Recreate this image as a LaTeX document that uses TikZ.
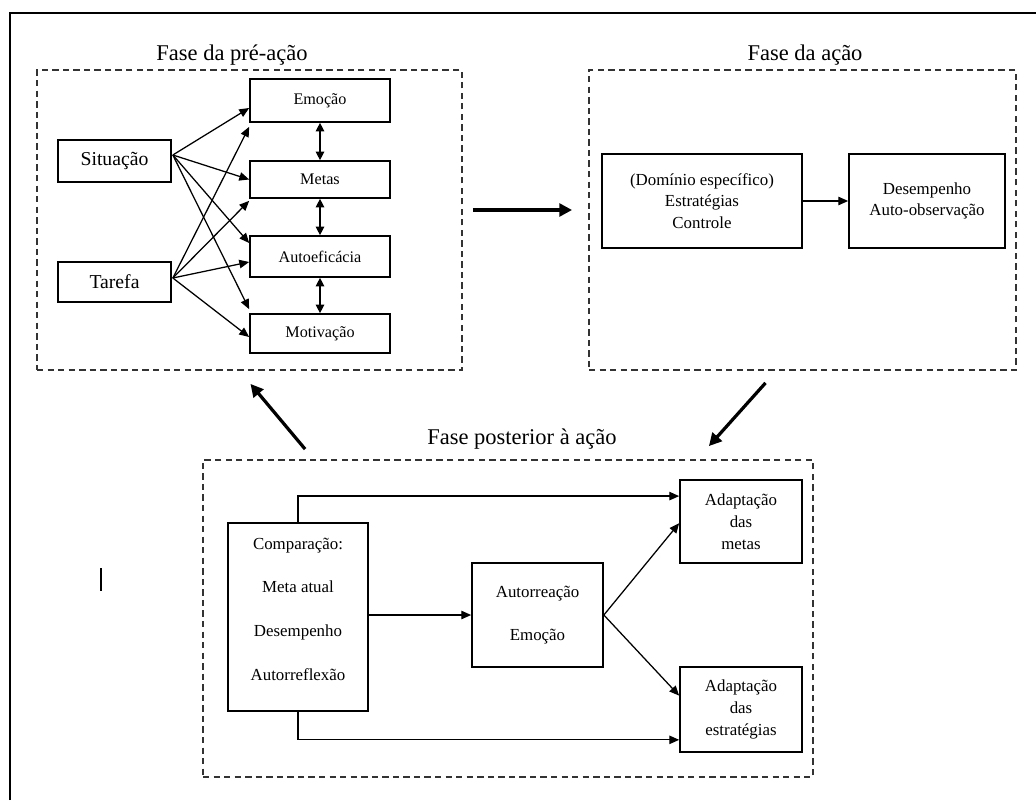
\documentclass[tikz,border=0pt]{standalone}
\usepackage{fontspec}
\setmainfont{Liberation Serif}
\usetikzlibrary{arrows.meta,calc}
\begin{document}
\begin{tikzpicture}[x=0.025cm,y=-0.025cm,
  wh/.style 2 args={minimum width=#1*0.025cm, minimum height=#2*0.025cm},
  box/.style={draw, line width=1.2pt, inner sep=0pt, align=center},
  phase/.style={draw=black!80, dash pattern=on 4.5pt off 3pt, line width=1.3pt, inner sep=0pt},
  ttl/.style={font=\fontsize{16}{19}\selectfont},
  body/.style={font=\fontsize{12}{15.5}\selectfont},
  small/.style={font=\fontsize{11.5}{14}\selectfont},
  con/.style={line width=0.9pt, -{Triangle[length=7pt,width=6pt]}},
  dcon/.style={line width=0.9pt, {Triangle[length=6pt,width=6pt]}-{Triangle[length=6pt,width=6pt]}},
  big/.style={line width=2.3pt, -{Triangle[length=9pt,width=9pt]}}
]
\useasboundingbox (0,0) rectangle (1036,800);
% outer frame (only top and left edges visible)
\draw[line width=1.4pt] (10,800) -- (10,13) -- (1036,13);
\draw[line width=1.6pt] (101,568) -- (101,591);

% phase boxes
\node[phase, wh={425}{300}] (pre) at (249.5,220) {};
\node[phase, wh={427}{300}] (act) at (802.5,220) {};
\node[phase, wh={610}{317}] (post) at (508,618.5) {};

\node[ttl] (tpre) at (232,55) {Fase da pré-ação};
\node[ttl] (tact) at (805,55) {Fase da ação};
\node[ttl] (tpost) at (522,439) {Fase posterior à ação};

% pre-action
\node[box, wh={113}{42}, font=\fontsize{14}{16}\selectfont] (sit) at (114.5,161) {Situação};
\node[box, wh={113}{40}, font=\fontsize{14}{16}\selectfont] (tar) at (114.5,282) {Tarefa};
\node[box, wh={140}{43}, small] (emo) at (320,100.5) {Emoção};
\node[box, wh={140}{37}, small] (met) at (320,179.5) {Metas};
\node[box, wh={140}{41}, small] (aut) at (320,256.5) {Autoeficácia};
\node[box, wh={140}{39}, small] (mot) at (320,333.5) {Motivação};

\draw[con] ($(sit.east)+(1,-6)$) -- ($(emo.west)+(0,7.5)$);
\draw[con] ($(sit.east)+(1,-6)$) -- (met.west);
\draw[con] ($(sit.east)+(1,-6)$) -- ($(aut.west)+(0,-13.5)$);
\draw[con] ($(sit.east)+(1,-6)$) -- ($(mot.north west)+(0,-4)$);
\draw[con] ($(tar.east)+(1,-4)$) -- ($(emo.south west)+(0,4)$);
\draw[con] ($(tar.east)+(1,-4)$) -- ($(met.south west)+(0,2)$);
\draw[con] ($(tar.east)+(1,-4)$) -- ($(aut.west)+(0,5.5)$);
\draw[con] ($(tar.east)+(1,-4)$) -- ($(mot.west)+(0,3.5)$);

\draw[dcon] (emo.south) -- (met.north);
\draw[dcon] (met.south) -- (aut.north);
\draw[dcon] (aut.south) -- (mot.north);

% action
\node[box, wh={200}{94}, body] (dom) at (702,201) {(Domínio específico)\\Estratégias\\Controle};
\node[box, wh={156}{94}, body] (des) at (927,201) {Desempenho\\Auto-observação};
\draw[con] (dom.east) -- (des.west);

% post-action
\node[box, wh={140}{188}] (comp) at (298,617) {};
\node[font=\fontsize{12}{31}\selectfont, align=center] (compt) at (298,609) {Comparação:\\Meta atual\\Desempenho\\Autorreflexão};
\node[box, wh={131}{104}, font=\fontsize{12}{31}\selectfont] (autr) at (537.5,615) {Autorreação\\Emoção};
\node[box, wh={122}{83}, body] (adm) at (741,521.5) {Adaptação\\das\\metas};
\node[box, wh={122}{85}, body] (ade) at (741,709.5) {Adaptação\\das\\estratégias};

\draw[con] (comp.north) |- ($(adm.north west)!0.2!(adm.south west)$);
\draw[con] (comp.south) |- ($(ade.north west)!0.85!(ade.south west)$);
\draw[con] (comp.east |- autr.west) -- (autr.west);
\draw[con] (autr.east) -- ($(adm.north west)!0.52!(adm.south west)$);
\draw[con] (autr.east) -- ($(ade.north west)!0.34!(ade.south west)$);

% phase transitions
\draw[big] ($(pre.east)+(10,-10)$) -- ($(act.west)+(-16,-10)$);
\draw[big] ($(act.south)+(-37,12)$) -- ($(post.north east)+(-105,-13)$);
\draw[big] ($(post.north west)+(103,-10)$) -- ($(pre.south)+(1,13)$);
\end{tikzpicture}
\end{document}
